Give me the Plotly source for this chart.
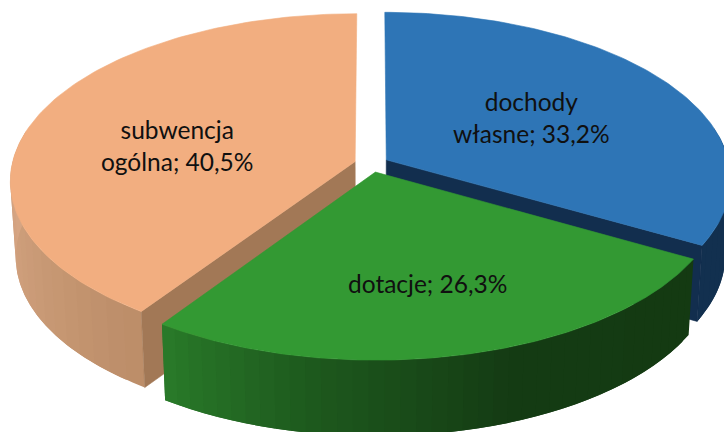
import numpy as np
import plotly.graph_objects as go

# Data
categories = ["dochody<br>własne", "dotacje", "subwencja<br>ogólna"]
values = [33.2, 26.3, 40.5]

# Style
top_colors = ["#2E75B6", "#339933", "#F2AE80"]
cut_colors = ["#122E4E", "#143C12", "#A27856"]
wall_stops = [
    [(90, "#12304F"), (120, "#12304F")],
    [(119, "#143A12"), (160, "#153C14"), (190, "#1E5A1E"), (215, "#2A7C2A")],
    [(214, "#BC8D68"), (240, "#C99A76"), (270, "#D6A583"), (360, "#D6A583")],
]
label_pos = [(531, 117), (427, 283), (177, 145)]
VISIBLE_WALL = (78, 282)

# Projection of the tilted disc
CX, CY, RX, RY, K, EXPLODE, DEPTH, SHRINK = 371.5, 164.0, 343.0, 165.0, 0.1124, 0.05, 76.0, 0.985


def project(u, v):
    w = 1 - K * v
    return CX + RX * u / w, CY + RY * v / w


def lower(x, y):
    return CX + (x - CX) * SHRINK, y + DEPTH


def hex2rgb(c):
    return np.array([int(c[i:i + 2], 16) for i in (1, 3, 5)], dtype=float)


def wall_color(stops, a):
    angs = [s[0] for s in stops]
    rgb = [hex2rgb(s[1]) for s in stops]
    c = [np.interp(a, angs, [r[i] for r in rgb]) for i in range(3)]
    return "rgb(%d,%d,%d)" % tuple(c)


def poly(fig, xs, ys, color, lw=0.6):
    fig.add_trace(go.Scatter(
        x=list(xs), y=list(ys), mode="lines", fill="toself", fillcolor=color,
        line=dict(color=color, width=lw), hoverinfo="skip", showlegend=False,
    ))


fig = go.Figure()
total = sum(values)
edges = np.concatenate([[0], np.cumsum(values)]) / total * 360

# blue, orange, then green, so that the front slice covers the others
for i in [0, 2, 1]:
    a0, a1 = edges[i], edges[i + 1]
    mid = np.radians((a0 + a1) / 2)
    ou, ov = EXPLODE * np.sin(mid), -EXPLODE * np.cos(mid)
    ang_deg = np.linspace(a0, a1, 121)
    ang = np.radians(ang_deg)
    rx, ry = project(ou + np.sin(ang), ov - np.cos(ang))
    ax, ay = project(ou, ov)

    # rim wall, in overlapping bands painted one over the next
    idx = np.where((ang_deg >= VISIBLE_WALL[0]) & (ang_deg <= VISIBLE_WALL[1]))[0]
    step = 3
    for s in range(idx[0], idx[-1], step):
        e = min(s + 2 * step, idx[-1])
        bx, by = lower(rx[s:e + 1], ry[s:e + 1])
        a_mid = (ang_deg[s] + ang_deg[min(s + step, idx[-1])]) / 2
        poly(fig,
             np.concatenate([rx[s:e + 1], bx[::-1], rx[s:s + 1]]),
             np.concatenate([ry[s:e + 1], by[::-1], ry[s:s + 1]]),
             wall_color(wall_stops[i], a_mid), lw=0)

    # cut face that looks towards the viewer
    j = 0 if i == 2 else -1
    if i != 1:
        x1, y1 = lower(ax, ay)
        x2, y2 = lower(rx[j], ry[j])
        poly(fig, [ax, rx[j], x2, x1, ax], [ay, ry[j], y2, y1, ay], cut_colors[i])

    # top surface
    poly(fig, np.concatenate([[ax], rx, [ax]]), np.concatenate([[ay], ry, [ay]]), top_colors[i])

for name, val, (lx, ly) in zip(categories, values, label_pos):
    fig.add_annotation(
        x=lx, y=ly, xref="x", yref="y", showarrow=False, align="center",
        text=f"{name}; {val:.1f}%".replace(".", ","),
        font=dict(family="Lato", size=24.5, color="#101010"),
    )

fig.update_xaxes(range=[0, 724], visible=False)
fig.update_yaxes(range=[432, 0], visible=False)
fig.update_layout(
    width=724, height=432, margin=dict(l=0, r=0, t=0, b=0),
    paper_bgcolor="white", plot_bgcolor="white", showlegend=False,
)
fig.write_html(
    "out.html",
    config={"displayModeBar": False},
    post_script="document.body.style.margin='0';document.documentElement.style.overflow='hidden';",
)
